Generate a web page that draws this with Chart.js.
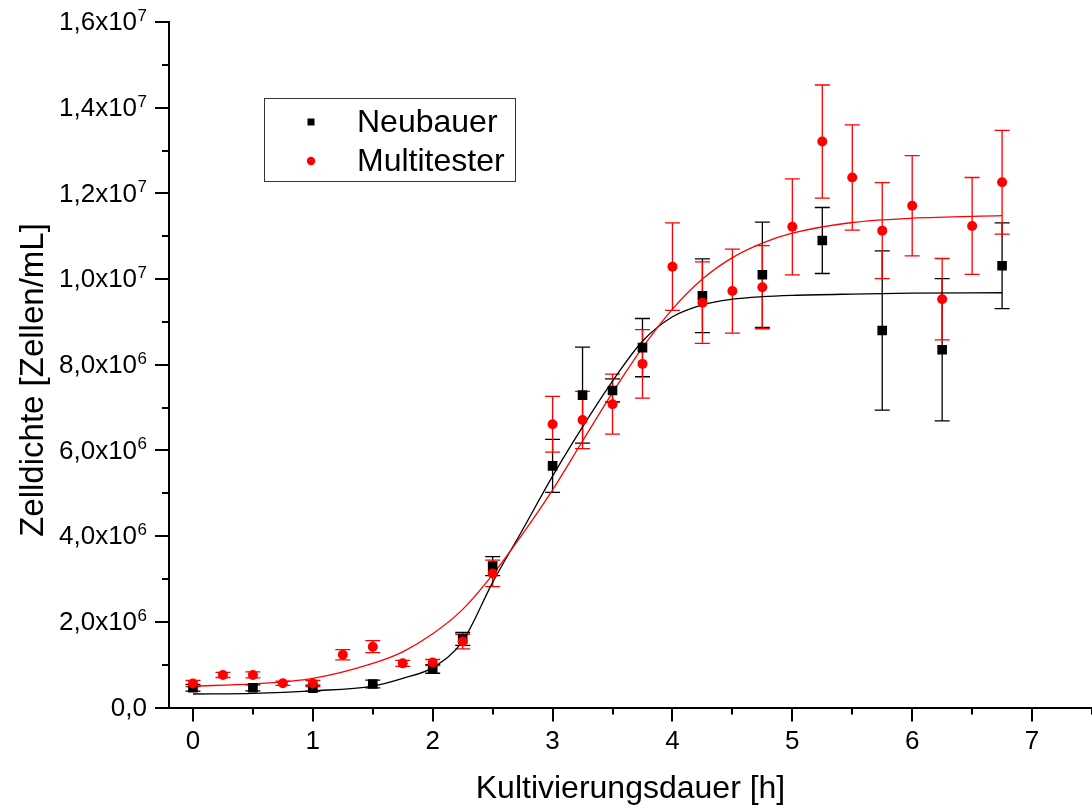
<!DOCTYPE html>
<html>
<head>
<meta charset="utf-8">
<script src="https://cdn.jsdelivr.net/npm/chart.js@4.4.1/dist/chart.umd.min.js"></script>
<style>
  html, body { margin: 0; padding: 0; background: #ffffff; }
  canvas { display: block; }
</style>
</head>
<body>
<canvas id="chart" width="1092" height="809"></canvas>
<script>
// Zelldichte über die Kultivierungsdauer: Zählkammer (Neubauer) vs. Multitester
const FONT = "'Liberation Sans', Arial, Helvetica, sans-serif";

// Neubauer-Zählkammer: Messzeitpunkte [h], Mittelwerte und Standardabweichung [Zellen/mL]
const hoursNeubauer = [0, 0.5, 1, 1.5, 2, 2.25, 2.5, 3, 3.25, 3.5, 3.75, 4.25, 4.75, 5.25, 5.75, 6.25, 6.75];
const cellsNeubauer = [4.6e5, 4.6e5, 4.5e5, 5.5e5, 9.0e5, 1.60e6, 3.30e6, 5.64e6, 7.29e6, 7.40e6, 8.40e6, 9.61e6, 1.010e7, 1.090e7, 8.80e6, 8.35e6, 1.031e7];
const errNeubauer   = [8e4, 7e4, 7e4, 9e4, 1.0e5, 1.5e5, 2.2e5, 6.2e5, 1.12e6, 2.7e5, 6.8e5, 8.6e5, 1.23e6, 7.7e5, 1.86e6, 1.66e6, 1.00e6];

// Multitester: Messzeitpunkte [h], Mittelwerte und Standardabweichung [Zellen/mL]
const hoursMulti = [0, 0.25, 0.5, 0.75, 1, 1.25, 1.5, 1.75, 2, 2.25, 2.5, 3, 3.25, 3.5, 3.75, 4, 4.25, 4.5, 4.75, 5, 5.25, 5.5, 5.75, 6, 6.25, 6.5, 6.75];
const cellsMulti = [5.6e5, 7.6e5, 7.6e5, 5.65e5, 5.6e5, 1.23e6, 1.42e6, 1.03e6, 1.05e6, 1.54e6, 3.13e6, 6.61e6, 6.71e6, 7.08e6, 8.02e6, 1.029e7, 9.45e6, 9.72e6, 9.81e6, 1.122e7, 1.321e7, 1.237e7, 1.113e7, 1.171e7, 9.53e6, 1.124e7, 1.226e7];
const errMulti   = [7e4, 6e4, 7e4, 5e4, 7e4, 1.2e5, 1.4e5, 7e4, 7e4, 1.7e5, 3.1e5, 6.5e5, 6.7e5, 7.0e5, 8.0e5, 1.02e6, 9.5e5, 9.8e5, 9.7e5, 1.12e6, 1.32e6, 1.23e6, 1.12e6, 1.17e6, 9.5e5, 1.13e6, 1.21e6];

const hoursFit = [0, 0.5, 1, 1.5, 1.75, 2, 2.25, 2.5, 2.75, 3, 3.25, 3.5, 3.75, 4, 4.25, 4.5, 4.75, 5, 5.5, 6, 6.75];
const fitNeubauer = [3.15e5, 3.3e5, 3.9e5, 5.0e5, 6.8e5, 9.3e5, 1.55e6, 2.92e6, 4.15e6, 5.40e6, 6.55e6, 7.62e6, 8.55e6, 9.12e6, 9.40e6, 9.53e6, 9.59e6, 9.62e6, 9.65e6, 9.67e6, 9.68e6];
const fitMulti    = [5.0e5, 5.5e5, 6.8e5, 1.03e6, 1.30e6, 1.72e6, 2.29e6, 3.10e6, 4.05e6, 5.08e6, 6.22e6, 7.35e6, 8.40e6, 9.30e6, 1.000e7, 1.050e7, 1.084e7, 1.107e7, 1.132e7, 1.142e7, 1.148e7];

// Achsenteilung und Beschriftung
const xTickValues = [0, 0.5, 1, 1.5, 2, 2.5, 3, 3.5, 4, 4.5, 5, 5.5, 6, 6.5, 7, 7.5];
const xTickLabels = ['0', '', '1', '', '2', '', '3', '', '4', '', '5', '', '6', '', '7', ''];
const yTickValues = [0, 1e6, 2e6, 3e6, 4e6, 5e6, 6e6, 7e6, 8e6, 9e6, 1e7, 1.1e7, 1.2e7, 1.3e7, 1.4e7, 1.5e7, 1.6e7];
const yTickMantissa = ['0,0', '', '2,0x10', '', '4,0x10', '', '6,0x10', '', '8,0x10', '', '1,0x10', '', '1,2x10', '', '1,4x10', '', '1,6x10'];
const yTickExponent = ['', '', '6', '', '6', '', '6', '', '6', '', '7', '', '7', '', '7', '', '7'];

const xTitle = 'Kultivierungsdauer [h]';
const yTitle = 'Zelldichte [Zellen/mL]';

const BLACK = '#000000';
const RED = '#ff0000';

const toPoints = (xs, ys) => xs.map((x, i) => ({ x: x, y: ys[i] }));

// Fehlerbalken, Teilstriche, Beschriftungen und Legende
const decorations = {
  id: 'decorations',
  beforeDatasetsDraw(chart) {
    const ctx = chart.ctx;
    const xs = chart.scales.x, ys = chart.scales.y;
    const bars = [
      { xv: hoursNeubauer, yv: cellsNeubauer, ev: errNeubauer, color: BLACK },
      { xv: hoursMulti, yv: cellsMulti, ev: errMulti, color: RED }
    ];
    ctx.save();
    ctx.lineWidth = 1.3;
    bars.forEach(s => {
      ctx.strokeStyle = s.color;
      s.xv.forEach((xv, i) => {
        const px = xs.getPixelForValue(xv);
        const top = ys.getPixelForValue(s.yv[i] + s.ev[i]);
        const bot = ys.getPixelForValue(s.yv[i] - s.ev[i]);
        ctx.beginPath();
        ctx.moveTo(px, top); ctx.lineTo(px, bot);
        ctx.moveTo(px - 7.5, top); ctx.lineTo(px + 7.5, top);
        ctx.moveTo(px - 7.5, bot); ctx.lineTo(px + 7.5, bot);
        ctx.stroke();
      });
    });
    ctx.restore();
  },
  afterDraw(chart) {
    const ctx = chart.ctx;
    const xs = chart.scales.x, ys = chart.scales.y;
    const area = chart.chartArea;
    ctx.save();
    ctx.strokeStyle = BLACK;
    ctx.fillStyle = BLACK;
    ctx.lineWidth = 2;

    // Teilstriche x
    xTickValues.forEach((v, i) => {
      const px = Math.round(xs.getPixelForValue(v));
      const len = xTickLabels[i] !== '' ? 14 : 7;
      ctx.beginPath();
      ctx.moveTo(px, area.bottom);
      ctx.lineTo(px, area.bottom + len);
      ctx.stroke();
    });
    // Teilstriche y
    yTickValues.forEach((v, i) => {
      const py = Math.round(ys.getPixelForValue(v));
      const len = yTickMantissa[i] !== '' ? 14 : 7;
      ctx.beginPath();
      ctx.moveTo(area.left - len, py);
      ctx.lineTo(area.left, py);
      ctx.stroke();
    });

    // Beschriftung x
    ctx.font = '26px ' + FONT;
    ctx.textAlign = 'center';
    ctx.textBaseline = 'middle';
    xTickValues.forEach((v, i) => {
      if (!xTickLabels[i]) return;
      ctx.fillText(xTickLabels[i], xs.getPixelForValue(v), 742);
    });

    // Beschriftung y mit hochgestelltem Exponenten
    const labelRight = 147;
    yTickValues.forEach((v, i) => {
      const main = yTickMantissa[i];
      if (!main) return;
      const py = ys.getPixelForValue(v);
      const sup = yTickExponent[i];
      let right = labelRight;
      if (sup) {
        ctx.font = '17px ' + FONT;
        ctx.textAlign = 'right';
        ctx.textBaseline = 'alphabetic';
        ctx.fillText(sup, right, py - 1);
        right -= ctx.measureText(sup).width + 0.5;
      }
      ctx.font = '26px ' + FONT;
      ctx.textAlign = 'right';
      ctx.textBaseline = 'middle';
      ctx.fillText(main, right, py + 1);
    });

    // Achsentitel
    ctx.font = '32px ' + FONT;
    ctx.textAlign = 'center';
    ctx.textBaseline = 'alphabetic';
    ctx.fillText(xTitle, (area.left + area.right) / 2, 798);
    ctx.font = '33px ' + FONT;
    ctx.save();
    ctx.translate(43, 380);
    ctx.rotate(-Math.PI / 2);
    ctx.fillText(yTitle, 0, 0);
    ctx.restore();

    // Legende
    ctx.lineWidth = 1;
    ctx.strokeStyle = '#333333';
    ctx.strokeRect(264.5, 98.5, 251, 83);
    const items = [chart.data.datasets[1], chart.data.datasets[0]];
    const rowsY = [122, 161];
    ctx.font = '32px ' + FONT;
    ctx.textAlign = 'left';
    ctx.textBaseline = 'middle';
    items.forEach((ds, i) => {
      const y = rowsY[i];
      ctx.fillStyle = ds.backgroundColor;
      if (ds.pointStyle === 'rect') {
        ctx.fillRect(311 - 3.5, y - 3.5, 7, 7);
      } else {
        ctx.beginPath();
        ctx.arc(311, y, 4.2, 0, Math.PI * 2);
        ctx.fill();
      }
      ctx.fillStyle = BLACK;
      ctx.fillText(ds.label, 357, y + 1);
    });
    ctx.restore();
  }
};

new Chart(document.getElementById('chart'), {
  type: 'scatter',
  data: {
    datasets: [
      {
        label: 'Multitester',
        data: toPoints(hoursMulti, cellsMulti),
        pointStyle: 'circle',
        pointRadius: 5,
        backgroundColor: RED,
        borderColor: RED,
        borderWidth: 0,
        showLine: false
      },
      {
        label: 'Neubauer',
        data: toPoints(hoursNeubauer, cellsNeubauer),
        pointStyle: 'rect',
        pointRadius: 6.8,
        backgroundColor: BLACK,
        borderColor: BLACK,
        borderWidth: 0,
        showLine: false
      },
      {
        label: 'Fit Multitester',
        data: toPoints(hoursFit, fitMulti),
        showLine: true,
        pointRadius: 0,
        borderColor: RED,
        borderWidth: 1.3,
        cubicInterpolationMode: 'monotone',
        fill: false
      },
      {
        label: 'Fit Neubauer',
        data: toPoints(hoursFit, fitNeubauer),
        showLine: true,
        pointRadius: 0,
        borderColor: BLACK,
        borderWidth: 1.3,
        cubicInterpolationMode: 'monotone',
        fill: false
      }
    ]
  },
  options: {
    responsive: false,
    animation: false,
    devicePixelRatio: 1,
    layout: { autoPadding: false, padding: { top: 22, right: 0, left: 0, bottom: 0 } },
    plugins: {
      legend: { display: false },
      tooltip: { enabled: false }
    },
    scales: {
      x: {
        type: 'linear',
        min: -0.2,
        max: 7.5,
        afterBuildTicks: s => { s.ticks = xTickValues.map(v => ({ value: v })); },
        afterFit: s => { s.height = 809 - 707.5; },
        ticks: { display: false },
        grid: { display: false, drawTicks: false },
        border: { display: true, color: BLACK, width: 2 }
      },
      y: {
        type: 'linear',
        min: 0,
        max: 1.6e7,
        afterBuildTicks: s => { s.ticks = yTickValues.map(v => ({ value: v })); },
        afterFit: s => { s.width = 169; },
        ticks: { display: false },
        grid: { display: false, drawTicks: false },
        border: { display: true, color: BLACK, width: 2 }
      }
    }
  },
  plugins: [decorations]
});
</script>
</body>
</html>
